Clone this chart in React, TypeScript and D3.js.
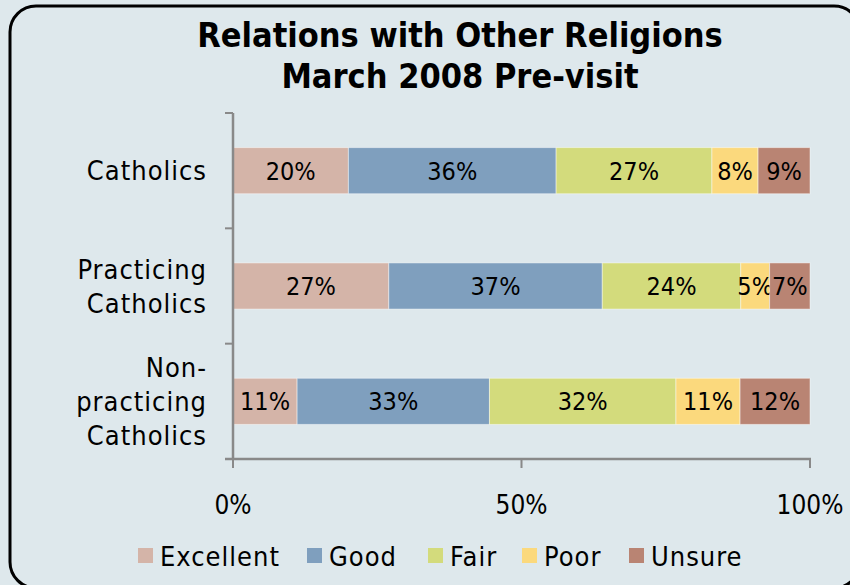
import React, { useEffect } from "react";
import * as d3 from "d3";

// data
const categories = ["Catholics", "Practicing Catholics", "Non-practicing Catholics"];
const categoryLines = [["Catholics"], ["Practicing", "Catholics"], ["Non-", "practicing", "Catholics"]];
const seriesNames = ["Excellent", "Good", "Fair", "Poor", "Unsure"];
const seriesColors = ["#d4b4a8", "#7f9fbe", "#d3db7c", "#fbd97d", "#b98473"];
const excellent = [20, 27, 11];
const good = [36, 37, 33];
const fair = [27, 24, 32];
const poor = [8, 5, 11];
const unsure = [9, 7, 12];
const xTicks = [0, 0.5, 1];
const titleLines = ["Relations with Other Religions", "March 2008 Pre-visit"];

const W = 850;
const H = 585;
const FONT = "'DejaVu Sans Condensed', 'DejaVu Sans', sans-serif";
const AXIS = "#898989";

export default function App() {
  useEffect(() => {
    document.body.style.margin = "0";
  }, []);

  const values = [excellent, good, fair, poor, unsure];
  const rows = categories.map((c, i) => {
    const row: any = { cat: c };
    const total = d3.sum(values, (s) => s[i]);
    seriesNames.forEach((s, k) => {
      row[s] = values[k][i] / total;
      row[s + "_raw"] = values[k][i];
    });
    return row;
  });
  const stacked = d3.stack().keys(seriesNames)(rows);

  const x = d3.scaleLinear().domain([0, 1]).range([233, 810]);
  const y = d3
    .scaleBand()
    .domain(categories)
    .range([113, 459])
    .paddingInner(0.6)
    .paddingOuter(0.3);
  const step = y.step();
  const boundaries = d3.range(categories.length + 1).map((i) => 113 + i * step);

  // legend layout
  const legendItems = [
    { name: "Excellent", x: 138 },
    { name: "Good", x: 307 },
    { name: "Fair", x: 428 },
    { name: "Poor", x: 522 },
    { name: "Unsure", x: 629 },
  ];

  return (
    <svg width={W} height={H} style={{ display: "block", fontFamily: FONT }}>
      <rect width={W} height={H} fill="#dee8ec" />
      <rect x={10} y={6} width={850} height={582} rx={26} ry={26} fill="#dee8ec" stroke="#000" strokeWidth={3} />

      {titleLines.map((t, i) => (
        <text key={t} x={460} y={47 + i * 41} textAnchor="middle" fontSize={34} fontWeight="bold" fill="#000">
          {t}
        </text>
      ))}

      {/* bars */}
      {stacked.map((layer, k) => (
        <g key={layer.key} fill={seriesColors[k]}>
          {layer.map((d, i) => {
            const x0 = x(d[0]);
            const x1 = x(d[1]);
            const yy = y(categories[i]) as number;
            const raw = (d.data as any)[layer.key + "_raw"];
            return (
              <g key={i}>
                <rect x={x0} y={yy} width={x1 - x0} height={y.bandwidth()} stroke="rgba(255,255,255,0.45)" strokeWidth={1} />
                <text
                  x={(x0 + x1) / 2}
                  y={yy + y.bandwidth() / 2}
                  dy="0.36em"
                  textAnchor="middle"
                  fontSize={25}
                  fill="#000"
                >
                  {raw}%
                </text>
              </g>
            );
          })}
        </g>
      ))}

      {/* axes */}
      <line x1={233} x2={233} y1={113} y2={460} stroke={AXIS} strokeWidth={2.5} />
      {boundaries.map((b) => (
        <line key={b} x1={225} x2={233} y1={b} y2={b} stroke={AXIS} strokeWidth={2} />
      ))}
      <line x1={225} x2={811} y1={459} y2={459} stroke={AXIS} strokeWidth={2.5} />
      {xTicks.map((t) => (
        <g key={t}>
          <line x1={x(t)} x2={x(t)} y1={459} y2={468} stroke={AXIS} strokeWidth={2} />
          <text x={x(t)} y={505} dy="0.36em" textAnchor="middle" fontSize={26} fill="#000">
            {d3.format(".0%")(t)}
          </text>
        </g>
      ))}

      {/* category labels */}
      {categories.map((c, i) => {
        const lines = categoryLines[i];
        const cy = (y(c) as number) + y.bandwidth() / 2;
        const lh = 34;
        return (
          <text key={c} x={207} textAnchor="end" fontSize={27} letterSpacing={1} fill="#000">
            {lines.map((l, j) => (
              <tspan key={j} x={207} y={cy + (j - (lines.length - 1) / 2) * lh} dy="0.36em">
                {l}
              </tspan>
            ))}
          </text>
        );
      })}

      {/* legend */}
      {legendItems.map((it) => {
        const k = seriesNames.indexOf(it.name);
        return (
          <g key={it.name}>
            <rect x={it.x} y={548} width={15} height={15} fill={seriesColors[k]} />
            <text x={it.x + 22} y={556} dy="0.36em" fontSize={27} letterSpacing={1} fill="#000">
              {it.name}
            </text>
          </g>
        );
      })}
    </svg>
  );
}
